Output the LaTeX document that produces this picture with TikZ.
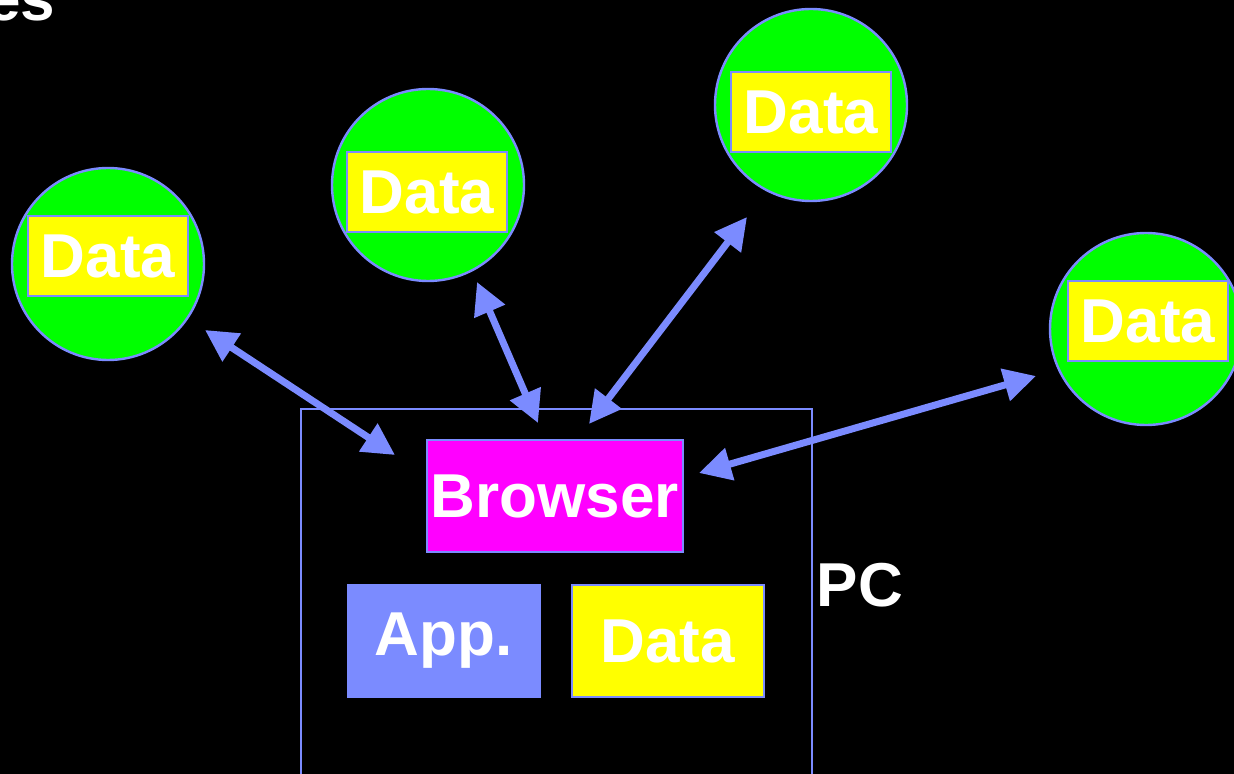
\documentclass[tikz,border=0pt]{standalone}
\usepackage{fontspec}
\setmainfont{Liberation Sans}
\usetikzlibrary{arrows.meta}
\definecolor{linkblue}{HTML}{7B8BFF}
\definecolor{bgreen}{HTML}{00FF00}
\definecolor{byellow}{HTML}{FFFF00}
\definecolor{bmagenta}{HTML}{FF00FF}

\tikzstyle{site} = [circle, fill=bgreen, draw=linkblue, line width=1.2pt, minimum size=96pt, inner sep=0pt]
\tikzstyle{store} = [rectangle, fill=byellow, draw=linkblue, line width=1.2pt, minimum width=80pt, minimum height=40pt, inner sep=0pt, text=white, font=\fontsize{31}{31}\bfseries]
\tikzstyle{block} = [rectangle, draw=linkblue, line width=1pt, minimum width=96pt, minimum height=56pt, inner sep=0pt, text=white, font=\fontsize{31}{31}\bfseries]
\tikzstyle{link} = [draw=linkblue, line width=3.5pt, {Triangle[length=16pt,width=16pt]}-{Triangle[length=16pt,width=16pt]}]

\begin{document}
\begin{tikzpicture}[x=0.5pt, y=-0.5pt]
    \useasboundingbox [fill=black] (0,0) rectangle (1234,774);
    \node (title) [anchor=south west, inner sep=0pt, text=white, font=\fontsize{31}{31}\bfseries] at (-14,22) {es};
    % remote sites
    \node (s1) [site] at (108,264) {};
    \node (s2) [site] at (428,185) {};
    \node (s3) [site] at (811,105) {};
    \node (s4) [site] at (1146,329) {};
    \node (d1) [store] at (108,256) {Data};
    \node (d2) [store] at (427,192) {Data};
    \node (d3) [store] at (811,112) {Data};
    \node (d4) [store] at (1148,321) {Data};
    % the PC
    \node (pc) [draw=linkblue, line width=1pt, minimum width=255.5pt, minimum height=200pt, inner sep=0pt, anchor=north west] at (300,408) {};
    \node (pclabel) [text=white, font=\fontsize{31}{31}\bfseries] at (860,585) {PC};
    \node (browser) [block, fill=bmagenta, minimum width=128pt] at (555,496) {Browser};
    \node (app) [block, fill=linkblue] at (443.5,641) {App.};
    \node (local) [block, fill=byellow] at (667.5,641) {Data};
    % link end points
    \coordinate (e1) at (205,330);
    \coordinate (b1) at (395,455);
    \coordinate (e2) at (477,282);
    \coordinate (b2) at (538,423);
    \coordinate (e3) at (747,217);
    \coordinate (b3) at (589,424);
    \coordinate (e4) at (1036,376);
    \coordinate (b4) at (699,473);
    \draw [link] (e1) -- (b1);
    \draw [link] (e2) -- (b2);
    \draw [link] (e3) -- (b3);
    \draw [link] (e4) -- (b4);
\end{tikzpicture}
\end{document}
